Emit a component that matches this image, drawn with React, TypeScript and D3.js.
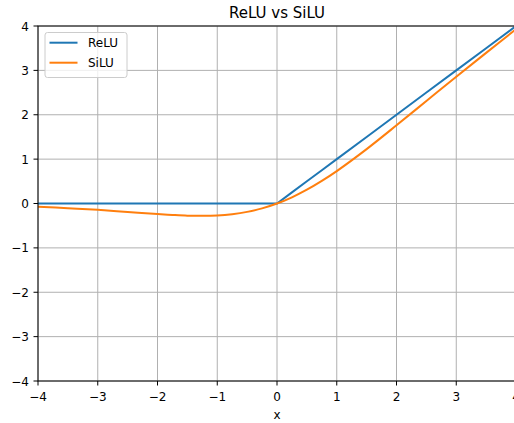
import React from "react";
import * as d3 from "d3";

const xValues = [-4, -3.5, -3, -2.5, -2, -1.75, -1.5, -1.25, -1, -0.75, -0.5, -0.25, 0, 0.25, 0.5, 0.75, 1, 1.5, 2, 2.5, 3, 3.5, 4];
const reluValues = [0, 0, 0, 0, 0, 0, 0, 0, 0, 0, 0, 0, 0, 0.25, 0.5, 0.75, 1, 1.5, 2, 2.5, 3, 3.5, 4];
const siluValues = [-0.072, -0.106, -0.142, -0.19, -0.238, -0.258, -0.274, -0.278, -0.269, -0.24, -0.189, -0.11, 0, 0.14, 0.311, 0.51, 0.731, 1.226, 1.762, 2.31, 2.858, 3.394, 3.928];
const xTicks = [-4, -3, -2, -1, 0, 1, 2, 3, 4];
const yTicks = [-4, -3, -2, -1, 0, 1, 2, 3, 4];
const seriesNames = ["ReLU", "SiLU"];
const colors = ["#1f77b4", "#ff7f0e"];

export default function App() {
  const W = 514, H = 423;
  const left = 38, right = 516, top = 26, bottom = 381;
  const x = d3.scaleLinear().domain([-4, 4]).range([left, right]);
  const y = d3.scaleLinear().domain([-4, 4]).range([bottom, top]);
  const fmt = (v: number) => (v < 0 ? "\u2212" + Math.abs(v) : String(v));
  const reluLine = d3.line<number>().x((_, i) => x(xValues[i])).y((d) => y(d)).curve(d3.curveLinear);
  const siluLine = d3.line<number>().x((_, i) => x(xValues[i])).y((d) => y(d)).curve(d3.curveCatmullRom.alpha(0.5));
  const paths = [reluLine(reluValues) || "", siluLine(siluValues) || ""];
  const font = "DejaVu Sans, sans-serif";
  return (
    <svg width={W} height={H} style={{ position: "absolute", left: 0, top: 0, background: "#fff" }} fontFamily={font}>
      <defs>
        <clipPath id="pc"><rect x={left} y={top} width={right - left} height={bottom - top} /></clipPath>
      </defs>
      {xTicks.map((t) => (
        <line key={"gx" + t} x1={x(t)} x2={x(t)} y1={top} y2={bottom} stroke="#b0b0b0" strokeWidth={1} />
      ))}
      {yTicks.map((t) => (
        <line key={"gy" + t} x1={left} x2={right} y1={y(t)} y2={y(t)} stroke="#b0b0b0" strokeWidth={1} />
      ))}
      <g clipPath="url(#pc)">
        {paths.map((p, i) => (
          <path key={i} d={p} fill="none" stroke={colors[i]} strokeWidth={2} />
        ))}
      </g>
      <rect x={left} y={top} width={right - left} height={bottom - top} fill="none" stroke="#000" strokeWidth={1} />
      {xTicks.map((t) => (
        <g key={"tx" + t}>
          <line x1={x(t)} x2={x(t)} y1={bottom} y2={bottom + 4.5} stroke="#000" strokeWidth={1} />
          <text x={x(t)} y={bottom + 20} fontSize={12} textAnchor="middle">{fmt(t)}</text>
        </g>
      ))}
      {yTicks.map((t) => (
        <g key={"ty" + t}>
          <line x1={left - 4.5} x2={left} y1={y(t)} y2={y(t)} stroke="#000" strokeWidth={1} />
          <text x={left - 9} y={y(t) + 4.5} fontSize={12} textAnchor="end">{fmt(t)}</text>
        </g>
      ))}
      <text x={(left + right) / 2} y={17.5} fontSize={15} textAnchor="middle">ReLU vs SiLU</text>
      <text x={(left + right) / 2} y={419} fontSize={12} textAnchor="middle">x</text>
      <g>
        <rect x={45} y={32.5} width={82} height={45} rx={2.5} fill="#fff" fillOpacity={0.8} stroke="#cccccc" strokeWidth={1} />
        {seriesNames.map((n, i) => (
          <g key={n}>
            <line x1={49.5} x2={77.5} y1={42.7 + i * 20} y2={42.7 + i * 20} stroke={colors[i]} strokeWidth={2} />
            <text x={88} y={47 + i * 20} fontSize={12}>{n}</text>
          </g>
        ))}
      </g>
    </svg>
  );
}
